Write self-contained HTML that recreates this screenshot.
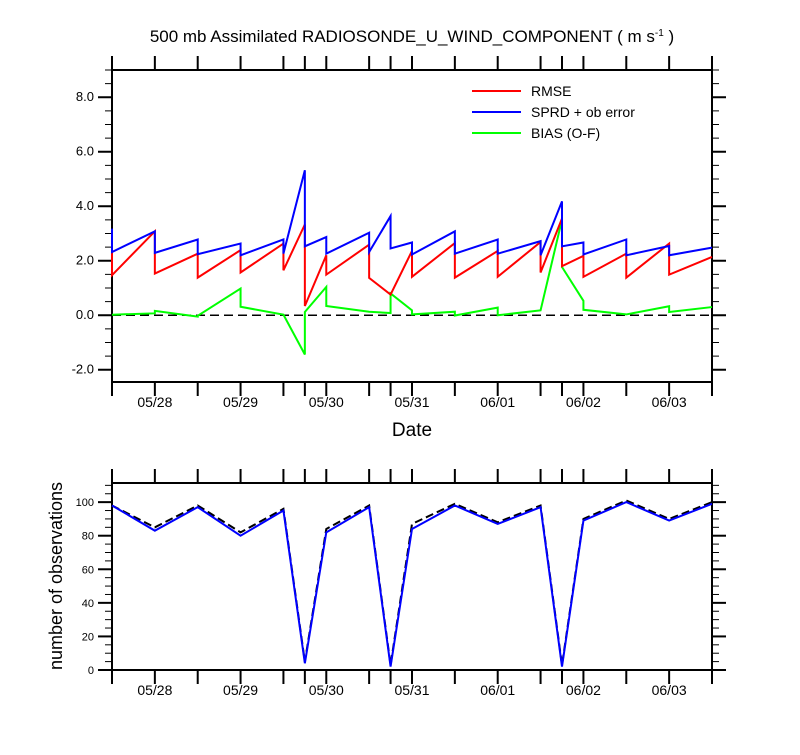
<!DOCTYPE html>
<html><head><meta charset="utf-8"><style>
body{margin:0;background:#fff;}
svg text{font-family:"Liberation Sans",Arial,sans-serif;fill:#000;}
</style></head><body>
<svg id="chart" width="800" height="750" xmlns="http://www.w3.org/2000/svg">
<text x="412" y="42" text-anchor="middle" font-size="17">500 mb Assimilated RADIOSONDE_U_WIND_COMPONENT ( m s<tspan dy="-6" font-size="10">-1</tspan><tspan dy="6"> )</tspan></text>
<text x="412" y="436" text-anchor="middle" font-size="19">Date</text>
<text transform="translate(62,576) rotate(-90)" text-anchor="middle" font-size="18">number of observations</text>
<g id="gtop"></g>
<g id="gbot"></g>
<g>
<line x1="472" y1="91" x2="521" y2="91" stroke="#ff0000" stroke-width="2"/>
<text x="531" y="96" font-size="14">RMSE</text>
<line x1="472" y1="112" x2="521" y2="112" stroke="#0000ff" stroke-width="2"/>
<text x="531" y="117" font-size="14">SPRD + ob error</text>
<line x1="472" y1="133" x2="521" y2="133" stroke="#00ff00" stroke-width="2"/>
<text x="531" y="138" font-size="14">BIAS (O-F)</text>
</g>
</svg>
<script>
const hours=[0,12,24,36,48,54,60,72,78,84,96,108,120,126,132,144,156,168];
const dateLabels=["05/28","05/29","05/30","05/31","06/01","06/02","06/03"];
const dateHours=[12,36,60,84,108,132,156];
const sprdFg=[3.18,3.08,2.78,2.63,2.78,5.32,2.87,3.03,3.64,2.67,3.08,2.78,2.72,4.18,2.67,2.78,2.54,2.48];
const sprdAn=[2.32,2.29,2.24,2.2,2.26,2.53,2.26,2.32,2.45,2.23,2.26,2.26,2.2,2.53,2.23,2.2,2.2,2.48];
const rmseFg=[2.75,3.08,2.26,2.39,2.63,3.33,2.2,2.59,0.76,2.36,2.65,2.36,2.69,3.55,2.18,2.26,2.63,2.14];
const rmseAn=[1.47,1.53,1.38,1.57,1.65,0.34,1.49,1.37,0.76,1.41,1.38,1.41,1.57,1.8,1.41,1.38,1.49,2.14];
const biasFg=[0.02,0.07,-0.05,0.98,0.02,-1.44,1.04,0.13,0.08,0.18,0.13,0.28,0.18,3.51,0.53,0.03,0.33,0.3];
const biasAn=[0.02,0.16,-0.02,0.31,0.02,0.12,0.34,0.13,0.8,0.03,-0.01,0.0,0.18,1.77,0.2,0.03,0.12,0.3];
const obsUsed=[98,83,97,80,95,4,82,97,2,84,98,87,97,2,89,100,89,99];
const obsTotal=[98,85,98,82,96,5,84,98,3,87,99,88,98,3,90,101,90,100];
const topTicks=[-2,0,2,4,6,8];
const botTicks=[0,20,40,60,80,100];

const NS="http://www.w3.org/2000/svg";
const X0=112,X1=712,H0=0,H1=168;
const x=h=>X0+(h-H0)/(H1-H0)*(X1-X0);
const T0=70,T1=382,TMIN=-2.45,TMAX=9.0;
const yt=v=>T1-(v-TMIN)/(TMAX-TMIN)*(T1-T0);
const B0=483,B1=670,BMIN=0,BMAX=111.4;
const yb=v=>B1-(v-BMIN)/(BMAX-BMIN)*(B1-B0);
function mk(p,tag,at){const e=document.createElementNS(NS,tag);for(const k in at)e.setAttribute(k,at[k]);p.appendChild(e);return e;}
const gTop=document.getElementById('gtop'),gBot=document.getElementById('gbot');

function frame(g,y0,y1,ticks,ys,minorStep,vmin,vmax,fmt,fs,nm){
  const r=mk(g,'rect',{x:X0,y:y0,width:X1-X0,height:y1-y0,fill:'none',stroke:'#000','stroke-width':2});
  
  
  hours.forEach(h=>{
    const l1=mk(g,'line',{x1:x(h),x2:x(h),y1:y1,y2:y1+14,stroke:'#000','stroke-width':2});
    
    
    const l2=mk(g,'line',{x1:x(h),x2:x(h),y1:y0,y2:y0-14,stroke:'#000','stroke-width':2});
    
    
  });
  dateHours.forEach((h,i)=>{
    const t=mk(g,'text',{x:x(h),y:y1+25,'text-anchor':'middle','font-size':14});
    t.textContent=dateLabels[i];
    
    
  });
  for(let v=Math.ceil(vmin/minorStep)*minorStep;v<=vmax+1e-9;v+=minorStep){
    const yy=ys(v);
    const major=ticks.some(t=>Math.abs(t-v)<1e-6);
    const len=major?14:7;
    const a=mk(g,'line',{x1:X0-len,x2:X0,y1:yy,y2:yy,stroke:'#000','stroke-width':major?2:1});
    
    
    const b=mk(g,'line',{x1:X1,x2:X1+len,y1:yy,y2:yy,stroke:'#000','stroke-width':major?2:1});
    
    
  }
  ticks.forEach(v=>{
    const t=mk(g,'text',{x:X0-18,y:ys(v)+4,'text-anchor':'end','font-size':fs});
    t.textContent=fmt(v);
    
    
  });
}
frame(gTop,T0,T1,topTicks,yt,0.5,TMIN,TMAX,v=>v.toFixed(1),13,'top');
frame(gBot,B0,B1,botTicks,yb,5,BMIN,BMAX,v=>String(v),11,'bottom');

const zl=mk(gTop,'line',{x1:X0,x2:X1,y1:yt(0),y2:yt(0),stroke:'#000','stroke-width':1.5,'stroke-dasharray':'9,5'});



function saw(fg,an,color,nm){
  let d='';
  hours.forEach((h,i)=>{d+=(i?'L':'M')+x(h)+','+yt(fg[i])+'L'+x(h)+','+yt(an[i]);});
  const p=mk(gTop,'path',{d:d,fill:'none',stroke:color,'stroke-width':2,'stroke-linejoin':'miter'});
  
  
}
saw(biasFg,biasAn,'#00ff00','bias-line');
saw(rmseFg,rmseAn,'#ff0000','rmse-line');
saw(sprdFg,sprdAn,'#0000ff','sprd-line');

function line(vals,color,dash,nm){
  const d=hours.map((h,i)=>(i?'L':'M')+x(h)+','+yb(vals[i])).join('');
  const at={d:d,fill:'none',stroke:color,'stroke-width':2};
  if(dash)at['stroke-dasharray']=dash;
  const p=mk(gBot,'path',at);
  
  
}
line(obsTotal,'#000','8,4','obs-total-line');
line(obsUsed,'#0000ff',null,'obs-used-line');
</script>
</body></html>
